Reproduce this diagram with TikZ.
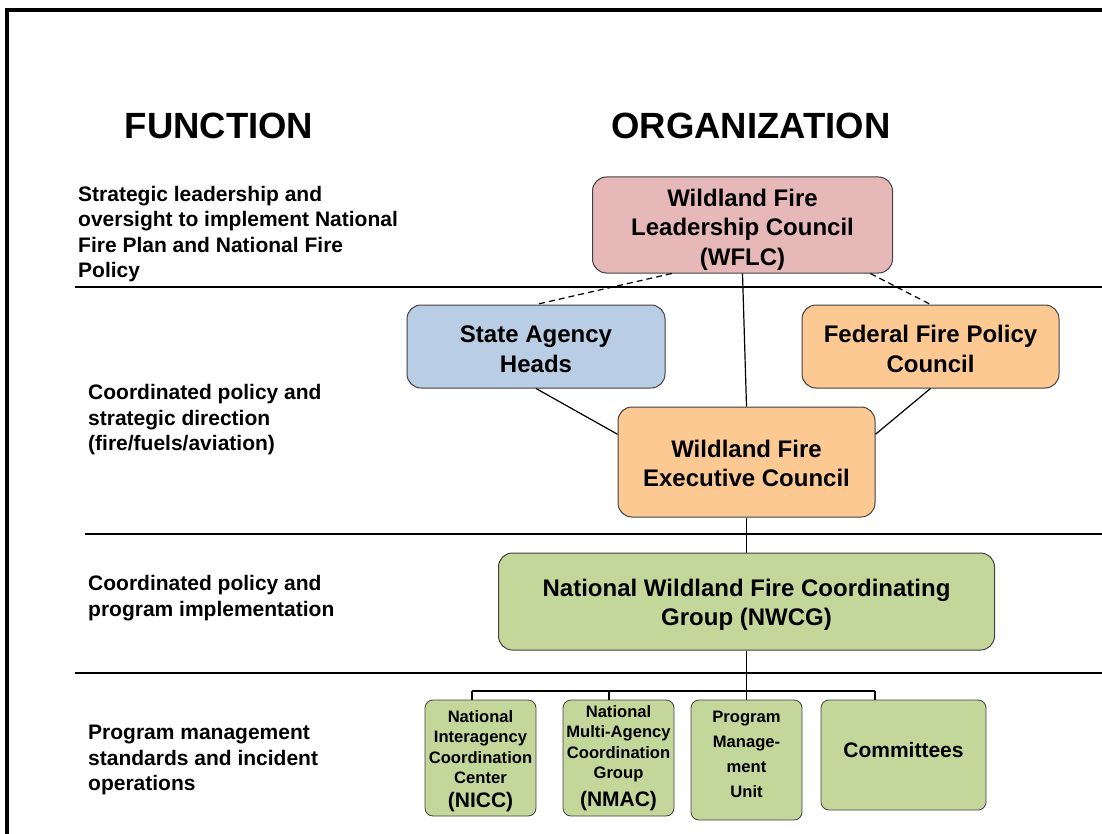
\documentclass[tikz,border=0pt]{standalone}
\usepackage{fontspec}
\setmainfont{Liberation Sans}
\usetikzlibrary{calc}
\definecolor{pinkfill}{HTML}{E6B9B8}
\definecolor{bluefill}{HTML}{B9CDE5}
\definecolor{orangefill}{HTML}{FCC993}
\definecolor{greenfill}{HTML}{C4D79B}
\definecolor{boxline}{HTML}{404040}
\tikzset{
  orgbox/.style={draw=boxline, line width=1pt, rounded corners=14pt, align=center,
    font=\fontsize{24}{29.5}\selectfont\bfseries, inner sep=0pt},
  smallbox/.style={draw=boxline, line width=0.8pt, rounded corners=8pt, align=center,
    fill=greenfill, font=\fontsize{16.6}{20.5}\selectfont\bfseries, inner sep=0pt},
  funclabel/.style={anchor=north west, align=left, inner sep=0pt,
    font=\fontsize{21}{25.5}\selectfont\bfseries},
  heading/.style={font=\fontsize{36.5}{40}\selectfont\bfseries, inner sep=0pt},
  sepline/.style={line width=2.6pt},
  conn/.style={line width=1.2pt},
  dconn/.style={line width=1.2pt, dash pattern=on 6pt off 4pt},
}
\begin{document}
\begin{tikzpicture}[x=1pt,y=-1pt]
\useasboundingbox (0,0) rectangle (1102,834);
% frame
\draw[line width=3.6pt, line join=miter] (7,834) -- (7,10) -- (1102,10);

% headings
\node[heading] (hf) at (219,126) {FUNCTION};
\node[heading] (ho) at (751,126) {ORGANIZATION};

% function labels
\node[funclabel] (f1) at (78,186) {Strategic leadership and\\oversight to implement National\\Fire Plan and National Fire\\Policy};
\node[funclabel] (f2) at (88,384.5) {Coordinated policy and\\strategic direction\\(fire/fuels/aviation)};
\node[funclabel] (f3) at (88,575.5) {Coordinated policy and\\program implementation};
\node[funclabel] (f4) at (88,725) {Program management\\standards and incident\\operations};

% separator lines
\draw[sepline] (75,287) -- (1102,287);
\draw[sepline] (85,534) -- (1102,534);
\draw[sepline] (75,673) -- (1102,673);

% organization boxes
\node[orgbox, fill=pinkfill, minimum width=300pt, minimum height=96pt] (wflc) at (742.5,225)
  {\\[-3.5pt]Wildland Fire\\Leadership Council\\(WFLC)};
\node[orgbox, fill=bluefill, minimum width=258pt, minimum height=83pt] (sah) at (536,346.5)
  {\\[-7.5pt]State Agency\\Heads};
\node[orgbox, fill=orangefill, minimum width=257pt, minimum height=83pt] (ffpc) at (930.5,346.5)
  {\\[-7.5pt]Federal Fire Policy\\Council};
\node[orgbox, fill=orangefill, minimum width=257pt, minimum height=110pt] (wfec) at (746.5,462)
  {\\[-9.5pt]Wildland Fire\\Executive Council};
\node[orgbox, fill=greenfill, minimum width=496pt, minimum height=97pt] (nwcg) at (746.5,601.5)
  {\\[-5.5pt]National Wildland Fire Coordinating\\Group (NWCG)};

% bottom boxes
\node[smallbox, minimum width=111pt, minimum height=116pt] (nicc) at (480.5,758)
  {National\\Interagency\\Coordination\\Center\\[3pt]{\fontsize{21}{22}\selectfont (NICC)}\\[-22pt]};
\node[smallbox, minimum width=111pt, minimum height=116pt] (nmac) at (618.5,758)
  {National\\Multi-Agency\\Coordination\\Group\\[7pt]{\fontsize{21}{22}\selectfont (NMAC)}\\[-16pt]};
\node[smallbox, minimum width=111pt, minimum height=120pt, font=\fontsize{16.6}{25}\selectfont\bfseries] (pmu) at (746.5,760)
  {Program\\Manage-\\ment\\Unit\\[-14pt]};
\node[smallbox, minimum width=165pt, minimum height=110pt, font=\fontsize{21}{25}\selectfont\bfseries] (com) at (903.5,755)
  {Committees\\[-14pt]};

% connectors
\draw[dconn] ($(wflc.south)!0.47!(wflc.south west)$) -- (sah.north);
\draw[dconn] ($(wflc.south)!0.85!(wflc.south east)$) -- (ffpc.north);
\draw[conn] (wflc.south) -- (wfec.north);
\draw[conn] (sah.south) -- ($(wfec.north west)!0.25!(wfec.south west)$);
\draw[conn] (ffpc.south) -- ($(wfec.north east)!0.25!(wfec.south east)$);
\draw[conn] (wfec.south) -- (nwcg.north);

\coordinate (b1) at (472,691);
\coordinate (b2) at (609,691);
\coordinate (b3) at (746.5,691);
\coordinate (b4) at (875,691);
\draw[conn] (nwcg.south) -- (b3);
\draw[conn] (b1) -- (b4);
\draw[conn] (b1) -- (b1 |- nicc.north);
\draw[conn] (b2) -- (b2 |- nmac.north);
\draw[conn] (b3) -- (pmu.north);
\draw[conn] (b4) -- (b4 |- com.north);
\end{tikzpicture}
\end{document}
